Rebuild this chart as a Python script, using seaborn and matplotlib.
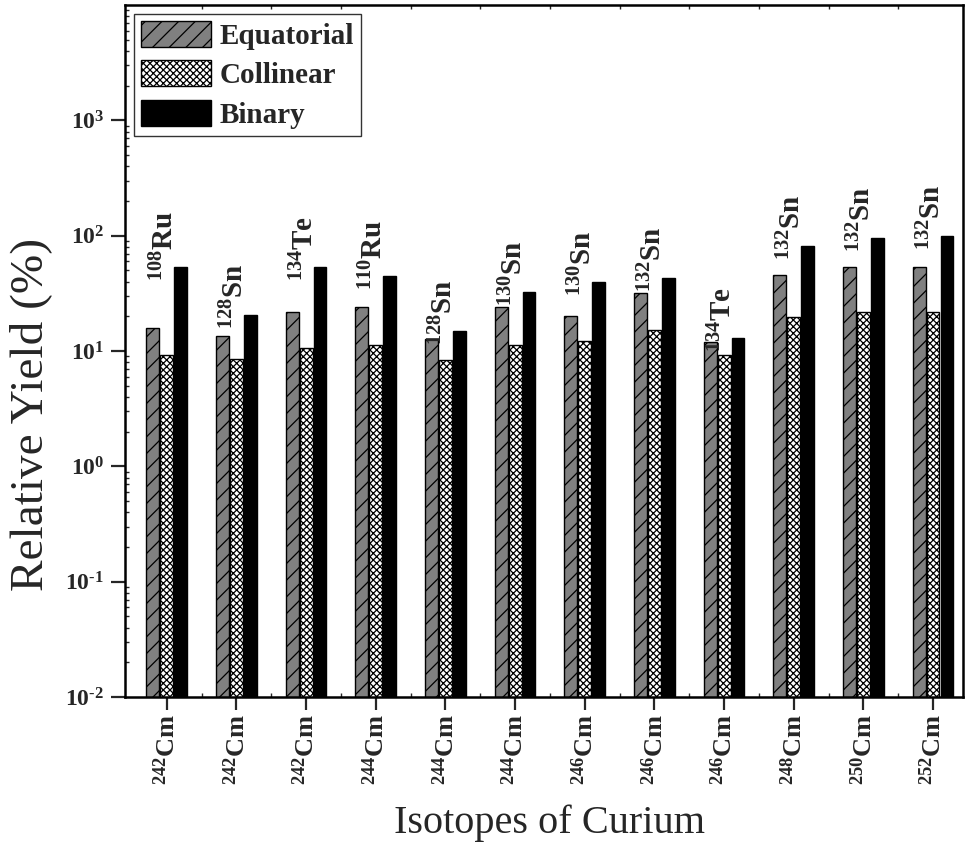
import numpy as np
import pandas as pd
import matplotlib
matplotlib.use("Agg")
import matplotlib.pyplot as plt
import seaborn as sns
from matplotlib.ticker import FixedLocator, FuncFormatter, LogLocator

# ---- data ----
parents = ["242", "242", "242", "244", "244", "244", "246", "246", "246", "248", "250", "252"]
light_mass = ["108", "128", "134", "110", "128", "130", "130", "132", "134", "132", "132", "132"]
light_elem = ["Ru", "Sn", "Te", "Ru", "Sn", "Sn", "Sn", "Sn", "Te", "Sn", "Sn", "Sn"]
equatorial = [15.7, 13.4, 21.7, 23.9, 12.7, 24.1, 20.2, 31.8, 11.9, 45.6, 53.8, 53.2]
collinear = [9.2, 8.5, 10.7, 11.3, 8.3, 11.3, 12.3, 15.2, 9.3, 19.6, 21.9, 21.9]
binary = [53.8, 20.6, 53.8, 45.0, 14.8, 32.3, 39.9, 42.7, 13.0, 80.9, 94.9, 98.8]
series = ["Equatorial", "Collinear", "Binary"]
ytick_exponents = [-2, -1, 0, 1, 2, 3]

n = len(parents)
df = pd.DataFrame({
    "case": list(range(n)) * 3,
    "series": [s for s in series for _ in range(n)],
    "yield": equatorial + collinear + binary,
})

sns.set_theme(style="white")
plt.rcParams["font.family"] = ["Liberation Serif", "DejaVu Serif"]
plt.rcParams["mathtext.fontset"] = "custom"
plt.rcParams["mathtext.rm"] = "Liberation Serif"
plt.rcParams["mathtext.bf"] = "Liberation Serif:bold"
plt.rcParams["mathtext.it"] = "Liberation Serif:italic"
plt.rcParams["axes.unicode_minus"] = False
plt.rcParams["hatch.linewidth"] = 0.9

fig = plt.figure(figsize=(9.67, 8.46), dpi=100)
ax = fig.add_axes([0.1293, 0.1761, 0.8666, 0.818])

palette = {"Equatorial": "#808080", "Collinear": "white", "Binary": "black"}
sns.barplot(data=df, x="case", y="yield", hue="series", hue_order=series,
            palette=palette, width=0.6, gap=0.08, edgecolor="black",
            linewidth=1.0, saturation=1, errorbar=None, ax=ax, legend=True)

hatches = {"Equatorial": "//", "Collinear": "xxxxx", "Binary": ""}
for cont, s in zip(ax.containers, series):
    for p in cont:
        p.set_hatch(hatches[s])
        p.set_facecolor(palette[s])
        p.set_edgecolor("black")

ax.set_yscale("log")
ax.set_ylim(1e-2, 1e4)
ax.set_xlim(-0.6, n - 1 + 0.43)

# light fragment labels
for i in range(n):
    ax.annotate(r"$\mathbf{{}^{%s}%s}$" % (light_mass[i], light_elem[i]),
                xy=(i, binary[i]), xytext=(-1, -10), textcoords="offset points",
                rotation=90, ha="center", va="bottom", fontsize=21)

# ticks
ax.xaxis.set_major_locator(FixedLocator(range(n)))
ax.set_xticklabels([r"$\mathbf{{}^{%s}Cm}$" % p for p in parents], rotation=90, fontsize=19)
ax.xaxis.set_minor_locator(FixedLocator(np.arange(n - 1) + 0.5))
ax.yaxis.set_major_locator(FixedLocator([10.0 ** e for e in ytick_exponents]))
ax.yaxis.set_minor_locator(LogLocator(base=10, subs=np.arange(2, 10), numticks=20))


def fmt(v, p):
    e = int(round(np.log10(v)))
    es = ("\u2010%d" % -e) if e < 0 else "%d" % e
    return r"$\mathbf{10^{%s}}$" % es


ax.yaxis.set_major_formatter(FuncFormatter(fmt))
ax.tick_params(axis="y", which="major", direction="out", length=10, width=1.6,
               labelsize=17, left=True, pad=5)
ax.tick_params(axis="y", which="minor", direction="in", length=3, width=1.0, left=True)
ax.tick_params(axis="x", which="major", direction="out", length=9, width=1.6, bottom=True)
ax.tick_params(axis="x", which="minor", direction="in", length=3, width=1.0, bottom=True, top=True)

for sp in ax.spines.values():
    sp.set_visible(True)
    sp.set_color("black")
    sp.set_linewidth(1.8)

ax.set_xlabel("Isotopes of Curium", fontsize=29)
ax.xaxis.set_label_coords(0.507, -0.155)
ax.set_ylabel("Relative Yield (%)", fontsize=34)
ax.yaxis.set_label_coords(-0.087, 0.409)

leg = ax.legend(loc="upper left", prop={"weight": "bold", "size": 21},
                frameon=True, fancybox=False, edgecolor="black",
                handlelength=2.4, handleheight=1.0, labelspacing=0.35,
                borderpad=0.25, handletextpad=0.3, borderaxespad=0.3)
leg.get_frame().set_linewidth(1.0)
for h, s in zip(leg.legend_handles, series):
    h.set_hatch(hatches[s])
    h.set_facecolor(palette[s])
    h.set_edgecolor("black")

fig.savefig("out.png", dpi=100)
